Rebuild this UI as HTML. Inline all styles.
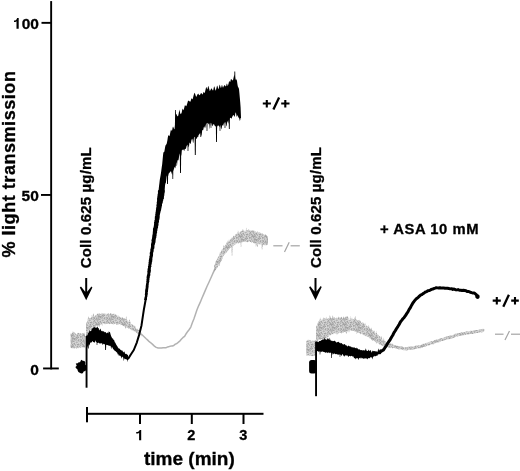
<!DOCTYPE html>
<html><head><meta charset="utf-8"><style>
html,body{margin:0;padding:0;background:#fff;width:520px;height:471px;overflow:hidden;font-family:"Liberation Sans",sans-serif}
svg{display:block;filter:grayscale(1)}
</style></head><body>
<svg width="520" height="471" viewBox="0 0 520 471">
<defs><pattern id="gp" width="13" height="11" patternUnits="userSpaceOnUse"><rect x="0" y="0" width="1" height="1" fill="#c4c4c4"/><rect x="1" y="0" width="1" height="1" fill="#c4c4c4"/><rect x="2" y="0" width="1" height="1" fill="#b2b2b2"/><rect x="3" y="0" width="1" height="1" fill="#cccccc"/><rect x="4" y="0" width="1" height="1" fill="#b2b2b2"/><rect x="5" y="0" width="1" height="1" fill="#b2b2b2"/><rect x="6" y="0" width="1" height="1" fill="#b2b2b2"/><rect x="7" y="0" width="1" height="1" fill="#b2b2b2"/><rect x="8" y="0" width="1" height="1" fill="#a4a4a4"/><rect x="9" y="0" width="1" height="1" fill="#bcbcbc"/><rect x="10" y="0" width="1" height="1" fill="#d6d6d6"/><rect x="11" y="0" width="1" height="1" fill="#c4c4c4"/><rect x="12" y="0" width="1" height="1" fill="#cccccc"/><rect x="0" y="1" width="1" height="1" fill="#d6d6d6"/><rect x="1" y="1" width="1" height="1" fill="#d6d6d6"/><rect x="2" y="1" width="1" height="1" fill="#cccccc"/><rect x="3" y="1" width="1" height="1" fill="#a4a4a4"/><rect x="4" y="1" width="1" height="1" fill="#cccccc"/><rect x="5" y="1" width="1" height="1" fill="#c4c4c4"/><rect x="6" y="1" width="1" height="1" fill="#b2b2b2"/><rect x="7" y="1" width="1" height="1" fill="#c4c4c4"/><rect x="8" y="1" width="1" height="1" fill="#d6d6d6"/><rect x="9" y="1" width="1" height="1" fill="#cccccc"/><rect x="10" y="1" width="1" height="1" fill="#cccccc"/><rect x="11" y="1" width="1" height="1" fill="#b2b2b2"/><rect x="12" y="1" width="1" height="1" fill="#bcbcbc"/><rect x="0" y="2" width="1" height="1" fill="#c4c4c4"/><rect x="1" y="2" width="1" height="1" fill="#d6d6d6"/><rect x="2" y="2" width="1" height="1" fill="#b2b2b2"/><rect x="3" y="2" width="1" height="1" fill="#b2b2b2"/><rect x="4" y="2" width="1" height="1" fill="#c4c4c4"/><rect x="5" y="2" width="1" height="1" fill="#d6d6d6"/><rect x="6" y="2" width="1" height="1" fill="#b2b2b2"/><rect x="7" y="2" width="1" height="1" fill="#cccccc"/><rect x="8" y="2" width="1" height="1" fill="#bcbcbc"/><rect x="9" y="2" width="1" height="1" fill="#a4a4a4"/><rect x="10" y="2" width="1" height="1" fill="#d6d6d6"/><rect x="11" y="2" width="1" height="1" fill="#cccccc"/><rect x="12" y="2" width="1" height="1" fill="#d6d6d6"/><rect x="0" y="3" width="1" height="1" fill="#a4a4a4"/><rect x="1" y="3" width="1" height="1" fill="#c4c4c4"/><rect x="2" y="3" width="1" height="1" fill="#bcbcbc"/><rect x="3" y="3" width="1" height="1" fill="#c4c4c4"/><rect x="4" y="3" width="1" height="1" fill="#a4a4a4"/><rect x="5" y="3" width="1" height="1" fill="#bcbcbc"/><rect x="6" y="3" width="1" height="1" fill="#cccccc"/><rect x="7" y="3" width="1" height="1" fill="#a4a4a4"/><rect x="8" y="3" width="1" height="1" fill="#c4c4c4"/><rect x="9" y="3" width="1" height="1" fill="#b2b2b2"/><rect x="10" y="3" width="1" height="1" fill="#bcbcbc"/><rect x="11" y="3" width="1" height="1" fill="#cccccc"/><rect x="12" y="3" width="1" height="1" fill="#a4a4a4"/><rect x="0" y="4" width="1" height="1" fill="#c4c4c4"/><rect x="1" y="4" width="1" height="1" fill="#cccccc"/><rect x="2" y="4" width="1" height="1" fill="#b2b2b2"/><rect x="3" y="4" width="1" height="1" fill="#cccccc"/><rect x="4" y="4" width="1" height="1" fill="#c4c4c4"/><rect x="5" y="4" width="1" height="1" fill="#a4a4a4"/><rect x="6" y="4" width="1" height="1" fill="#bcbcbc"/><rect x="7" y="4" width="1" height="1" fill="#b2b2b2"/><rect x="8" y="4" width="1" height="1" fill="#b2b2b2"/><rect x="9" y="4" width="1" height="1" fill="#d6d6d6"/><rect x="10" y="4" width="1" height="1" fill="#b2b2b2"/><rect x="11" y="4" width="1" height="1" fill="#d6d6d6"/><rect x="12" y="4" width="1" height="1" fill="#c4c4c4"/><rect x="0" y="5" width="1" height="1" fill="#cccccc"/><rect x="1" y="5" width="1" height="1" fill="#b2b2b2"/><rect x="2" y="5" width="1" height="1" fill="#cccccc"/><rect x="3" y="5" width="1" height="1" fill="#d6d6d6"/><rect x="4" y="5" width="1" height="1" fill="#b2b2b2"/><rect x="5" y="5" width="1" height="1" fill="#a4a4a4"/><rect x="6" y="5" width="1" height="1" fill="#a4a4a4"/><rect x="7" y="5" width="1" height="1" fill="#a4a4a4"/><rect x="8" y="5" width="1" height="1" fill="#b2b2b2"/><rect x="9" y="5" width="1" height="1" fill="#c4c4c4"/><rect x="10" y="5" width="1" height="1" fill="#d6d6d6"/><rect x="11" y="5" width="1" height="1" fill="#c4c4c4"/><rect x="12" y="5" width="1" height="1" fill="#a4a4a4"/><rect x="0" y="6" width="1" height="1" fill="#c4c4c4"/><rect x="1" y="6" width="1" height="1" fill="#d6d6d6"/><rect x="2" y="6" width="1" height="1" fill="#a4a4a4"/><rect x="3" y="6" width="1" height="1" fill="#b2b2b2"/><rect x="4" y="6" width="1" height="1" fill="#bcbcbc"/><rect x="5" y="6" width="1" height="1" fill="#cccccc"/><rect x="6" y="6" width="1" height="1" fill="#a4a4a4"/><rect x="7" y="6" width="1" height="1" fill="#c4c4c4"/><rect x="8" y="6" width="1" height="1" fill="#bcbcbc"/><rect x="9" y="6" width="1" height="1" fill="#b2b2b2"/><rect x="10" y="6" width="1" height="1" fill="#cccccc"/><rect x="11" y="6" width="1" height="1" fill="#c4c4c4"/><rect x="12" y="6" width="1" height="1" fill="#b2b2b2"/><rect x="0" y="7" width="1" height="1" fill="#a4a4a4"/><rect x="1" y="7" width="1" height="1" fill="#d6d6d6"/><rect x="2" y="7" width="1" height="1" fill="#b2b2b2"/><rect x="3" y="7" width="1" height="1" fill="#c4c4c4"/><rect x="4" y="7" width="1" height="1" fill="#bcbcbc"/><rect x="5" y="7" width="1" height="1" fill="#cccccc"/><rect x="6" y="7" width="1" height="1" fill="#c4c4c4"/><rect x="7" y="7" width="1" height="1" fill="#b2b2b2"/><rect x="8" y="7" width="1" height="1" fill="#bcbcbc"/><rect x="9" y="7" width="1" height="1" fill="#d6d6d6"/><rect x="10" y="7" width="1" height="1" fill="#c4c4c4"/><rect x="11" y="7" width="1" height="1" fill="#a4a4a4"/><rect x="12" y="7" width="1" height="1" fill="#b2b2b2"/><rect x="0" y="8" width="1" height="1" fill="#d6d6d6"/><rect x="1" y="8" width="1" height="1" fill="#d6d6d6"/><rect x="2" y="8" width="1" height="1" fill="#cccccc"/><rect x="3" y="8" width="1" height="1" fill="#d6d6d6"/><rect x="4" y="8" width="1" height="1" fill="#b2b2b2"/><rect x="5" y="8" width="1" height="1" fill="#cccccc"/><rect x="6" y="8" width="1" height="1" fill="#c4c4c4"/><rect x="7" y="8" width="1" height="1" fill="#a4a4a4"/><rect x="8" y="8" width="1" height="1" fill="#a4a4a4"/><rect x="9" y="8" width="1" height="1" fill="#a4a4a4"/><rect x="10" y="8" width="1" height="1" fill="#b2b2b2"/><rect x="11" y="8" width="1" height="1" fill="#bcbcbc"/><rect x="12" y="8" width="1" height="1" fill="#b2b2b2"/><rect x="0" y="9" width="1" height="1" fill="#b2b2b2"/><rect x="1" y="9" width="1" height="1" fill="#c4c4c4"/><rect x="2" y="9" width="1" height="1" fill="#b2b2b2"/><rect x="3" y="9" width="1" height="1" fill="#b2b2b2"/><rect x="4" y="9" width="1" height="1" fill="#cccccc"/><rect x="5" y="9" width="1" height="1" fill="#bcbcbc"/><rect x="6" y="9" width="1" height="1" fill="#c4c4c4"/><rect x="7" y="9" width="1" height="1" fill="#b2b2b2"/><rect x="8" y="9" width="1" height="1" fill="#bcbcbc"/><rect x="9" y="9" width="1" height="1" fill="#a4a4a4"/><rect x="10" y="9" width="1" height="1" fill="#bcbcbc"/><rect x="11" y="9" width="1" height="1" fill="#b2b2b2"/><rect x="12" y="9" width="1" height="1" fill="#d6d6d6"/><rect x="0" y="10" width="1" height="1" fill="#a4a4a4"/><rect x="1" y="10" width="1" height="1" fill="#cccccc"/><rect x="2" y="10" width="1" height="1" fill="#bcbcbc"/><rect x="3" y="10" width="1" height="1" fill="#a4a4a4"/><rect x="4" y="10" width="1" height="1" fill="#cccccc"/><rect x="5" y="10" width="1" height="1" fill="#a4a4a4"/><rect x="6" y="10" width="1" height="1" fill="#bcbcbc"/><rect x="7" y="10" width="1" height="1" fill="#b2b2b2"/><rect x="8" y="10" width="1" height="1" fill="#c4c4c4"/><rect x="9" y="10" width="1" height="1" fill="#c4c4c4"/><rect x="10" y="10" width="1" height="1" fill="#bcbcbc"/><rect x="11" y="10" width="1" height="1" fill="#c4c4c4"/><rect x="12" y="10" width="1" height="1" fill="#c4c4c4"/></pattern></defs><style>text{stroke:#000;stroke-width:0.3px}</style>
<rect width="520" height="471" fill="#fff"/>
<g font-family="Liberation Sans, sans-serif" font-weight="bold" fill="#000">
<!-- y axis -->
<rect x="50.2" y="1.1" width="1.9" height="368.3" fill="#000"/>
<rect x="41.5" y="21.9" width="9.5" height="1.9"/>
<rect x="41" y="194" width="10" height="1.9"/>
<rect x="43.1" y="367.5" width="15.7" height="1.9"/>
<text x="38.9" y="28.8" font-size="15.5" text-anchor="end">00</text>
<path d="M16.5 28.8H18.7V17.9H17.1C16.8 19.6 15.7 20.4 14 20.5V22.1C15 22.1 15.9 21.8 16.5 21.2Z"/>
<text x="38.8" y="201.2" font-size="15.5" text-anchor="end">50</text>
<text x="38.9" y="374.5" font-size="15.5" text-anchor="end">0</text>
<text transform="translate(14.9,257.6) rotate(-90)" font-size="18" letter-spacing="0.55">% light transmission</text>
<!-- x axis -->
<rect x="86" y="412.8" width="177.5" height="2"/>
<rect x="86" y="407" width="2" height="15.3"/>
<rect x="139" y="414" width="2" height="10"/>
<rect x="190.8" y="414" width="2" height="10"/>
<rect x="242.5" y="414" width="2" height="10"/>
<path d="M139.1 440.3H141.2V429.9H139.6C139.3 431.3 138.2 432 136.2 432.1V433.6C137.4 433.6 138.5 433.3 139.1 432.7Z"/>
<text x="191.3" y="440" font-size="14.5" text-anchor="middle">2</text>
<text x="243.4" y="440" font-size="14.5" text-anchor="middle">3</text>
<text x="189.4" y="465" font-size="19" text-anchor="middle">time (min)</text>
<!-- labels -->
<text transform="translate(91.4,268.3) rotate(-90)" font-size="15" letter-spacing="0.15">Coll 0.625 µg/mL</text>
<text transform="translate(320.6,268.1) rotate(-90)" font-size="15" letter-spacing="0.15">Coll 0.625 µg/mL</text>
<text x="380" y="233.6" font-size="14.8" letter-spacing="0.55">+ ASA 10 mM</text>
</g>
<!-- +/+ labels -->
<g stroke="#000" stroke-width="2.1" fill="none">
<path d="M262.8 103.5H270.9M266.8 99.9V107.5M281.2 103.5H289.5M285.3 99.9V107.5"/>
<path d="M273.4 109.6L279.1 97.5" stroke-width="2.3"/>
<path d="M492.7 300.6H500.8M496.8 297V304.6M511.2 300.6H518.8M515 297V304.6"/>
<path d="M503.3 306.7L508.9 294.8" stroke-width="2.3"/>
</g>
<!-- arrows -->
<path d="M79.8 287.6L81 286.6L85.2 291.8V278H87.2V291.8L91.4 286.4L92.4 287.4L86.2 300.3Z" fill="#000"/>
<path d="M309.1 287.3L310.3 286.3L314.5 291.5V278H316.5V291.5L320.7 286.1L321.7 287.1L315.5 300.3Z" fill="#000"/>
<!-- -/- labels -->
<g stroke="#a4a4a4" stroke-width="1.2" fill="none">
<line x1="273.3" y1="245.8" x2="282.5" y2="245.8"/>
<line x1="284.5" y1="252" x2="289.2" y2="242.3"/>
<line x1="290.6" y1="245.8" x2="299.8" y2="245.8"/>
<line x1="495" y1="334.2" x2="503.5" y2="334.2"/>
<line x1="505" y1="340" x2="509.5" y2="331"/>
<line x1="511" y1="334.2" x2="520" y2="334.2"/>
</g>
<path d="M70.6 333.54 L71.2 333.63 L71.8 333.46 L72.4 332.46 L73 331 L73.6 332.53 L74.2 332.11 L74.8 333.87 L75.4 333.03 L76 334.12 L76.6 333.91 L77.2 333.88 L77.8 332.66 L78.4 333.09 L79 332.63 L79.6 333.66 L80.2 333.22 L80.8 332.95 L81.4 333.61 L82 334.51 L82.6 333.04 L83.2 332.93 L83.8 333.55 L84.4 333.68 L85 332.36 L85 333.62 L85 347 L85 347.97 L84.4 347.07 L83.8 347.88 L83.2 347.02 L82.6 347.13 L82 347.47 L81.4 347.08 L80.8 347.81 L80.2 347.47 L79.6 347.76 L79 347.99 L78.4 348.28 L77.8 347.49 L77.2 348.27 L76.6 348.63 L76 347.82 L75.4 347.92 L74.8 348.65 L74.2 348.68 L73.6 348.19 L73 347.89 L72.4 348.19 L71.8 348.36 L71.2 347.93 L70.6 347.92Z" fill="url(#gp)"/>
<path d="M86 324.69 L86.6 321.71 L87.2 322.8 L87.8 318.82 L88.4 316.16 L89 317.73 L89.6 318.19 L90.2 317.65 L90.8 317.88 L91.4 317.2 L92 314.41 L92.6 316.86 L93.2 312.82 L93.8 315.09 L94.4 316.15 L95 315.91 L95.6 315.1 L96.2 315.33 L96.8 314.31 L97.4 314.08 L98 313.25 L98.6 314.09 L99.2 314.11 L99.8 313.12 L100.4 314.03 L101 314.23 L101.6 312.7 L102.2 313.39 L102.8 313.33 L103.4 313.88 L104 313.17 L104.6 313.53 L105.2 313.66 L105.8 313.75 L106.4 315.83 L107 312.77 L107.6 314.1 L108.2 313.47 L108.8 313.14 L109.4 314.24 L110 314.04 L110.6 312.85 L111.2 314.23 L111.8 313.54 L112.4 313.89 L113 313.9 L113.6 313.63 L114.2 313.22 L114.8 314.93 L115.4 313.89 L116 314.58 L116.6 315.15 L117.2 316.87 L117.8 315.5 L118.4 315.25 L119 316.85 L119.6 316.34 L120.2 317.46 L120.8 317.45 L121.4 317.59 L122 317.92 L122.6 316.67 L123.2 318.52 L123.8 318.25 L124.4 318.04 L125 319.61 L125.6 319.27 L126.2 316.04 L126.8 319.22 L127.4 320.2 L128 321.56 L128.6 321.99 L129.2 319.35 L129.8 319.98 L130.4 322.2 L131 325.24 L131.6 323.82 L132.2 324.5 L132.8 324.19 L133.4 326.02 L134 325.15 L134.6 326.24 L135.2 325.98 L135.8 327.86 L136.4 329.51 L137 328.36 L137.6 329.57 L138.2 329.75 L138.8 330.2 L139.4 329.86 L140 330.26 L140.6 331.78 L141.2 332.46 L141.5 332.87 L141.5 336.34 L141.2 336.19 L140.6 334.89 L140 335.22 L139.4 334.43 L138.8 334.68 L138.2 336.59 L137.6 333.19 L137 333.12 L136.4 332.95 L135.8 332.18 L135.2 331.46 L134.6 331.7 L134 330.82 L133.4 331.32 L132.8 330.06 L132.2 330.38 L131.6 330.34 L131 329.8 L130.4 329.05 L129.8 328.63 L129.2 328.86 L128.6 328.61 L128 328.28 L127.4 327.45 L126.8 326.97 L126.2 327.55 L125.6 328.95 L125 326.56 L124.4 326.16 L123.8 326.16 L123.2 325.68 L122.6 325.68 L122 325.06 L121.4 324.7 L120.8 325.34 L120.2 324.49 L119.6 324.1 L119 324.18 L118.4 324.25 L117.8 324.63 L117.2 324.74 L116.6 324.75 L116 324.06 L115.4 323.75 L114.8 324.28 L114.2 323.74 L113.6 324.59 L113 324.22 L112.4 324.09 L111.8 323.95 L111.2 323.6 L110.6 323.67 L110 323.55 L109.4 324.26 L108.8 323.57 L108.2 323.64 L107.6 324.01 L107 323.96 L106.4 323.61 L105.8 324.13 L105.2 324.05 L104.6 324.29 L104 323.57 L103.4 323.59 L102.8 322.94 L102.2 326.29 L101.6 324.57 L101 324.6 L100.4 324.6 L99.8 325.51 L99.2 327.48 L98.6 325.52 L98 325.7 L97.4 325.55 L96.8 326.31 L96.2 326.09 L95.6 326.66 L95 327.02 L94.4 327.34 L93.8 327.83 L93.2 329.27 L92.6 329.14 L92 330.98 L91.4 330.21 L90.8 329.24 L90.2 331.05 L89.6 333.85 L89 332.83 L88.4 333.92 L87.8 334.52 L87.2 336.75 L86.6 335.82 L86 336.53Z" fill="url(#gp)"/>
<polyline points="141.5,334.26 143.07,335.75 144.63,337.21 146.2,338.72 147.73,340.12 149.27,341.71 150.8,342.76 152.6,344.42 154.4,346.09 156.2,347.37 158.1,347.95 160,348.01 161.55,348.03 163.1,347.77 164.65,347.77 166.2,347.64 167.72,346.9 169.24,346.54 170.76,346.11 172.28,345.97 173.8,345.43 175.37,344.13 176.93,343.45 178.5,342.12 180.03,340.83 181.55,339.06 183.07,337.48 184.6,336.39 186.15,333.73 187.7,331.41 189.25,329.47 190.8,327.09 192.33,322.69 193.87,318.93 195.4,314.62 196.9,310.09 198.6,305.83 200.3,302.18 202,298.04 203.7,294.15 205.4,290.1 207.07,286.23 208.73,282.7 210.4,279.03 212.2,274.99 214,270.92 215.8,267 217.3,263.95 218.8,260.45 220.3,257.59" fill="none" stroke="#b2b2b2" stroke-width="1.5" stroke-linejoin="round" stroke-linecap="round"/>
<path d="M214 265.82 L214.6 264.72 L215.2 264.26 L215.8 261.26 L216.4 260.21 L217 259.61 L217.6 257.8 L218.2 256.81 L218.8 255.94 L219.4 255 L220 251.89 L220.6 252.63 L221.2 250.4 L221.8 249.75 L222.4 248.86 L223 248.7 L223.6 244.68 L224.2 246.43 L224.8 245.7 L225.4 245.39 L226 243.7 L226.6 242.34 L227.2 243.48 L227.8 240.3 L228.4 242.39 L229 239.2 L229.6 241.14 L230.2 240.28 L230.8 238.73 L231.4 237.13 L232 240.03 L232.6 237.35 L233.2 236.54 L233.8 235.61 L234.4 236.22 L235 235.42 L235.6 234 L236.2 233.99 L236.8 233.76 L237.4 234.19 L238 230.24 L238.6 232.4 L239.2 232.72 L239.8 232.62 L240.4 231.61 L241 231.62 L241.6 230.92 L242.2 230.6 L242.8 228.97 L243.4 230.1 L244 231.13 L244.6 230.49 L245.2 232.26 L245.8 230.2 L246.4 227.49 L247 230.7 L247.6 230.18 L248.2 230.06 L248.8 228.83 L249.4 230.42 L250 230.76 L250.6 230.73 L251.2 230.8 L251.8 230.21 L252.4 230.41 L253 230.79 L253.6 230.61 L254.2 230.57 L254.8 232.42 L255.4 231.35 L256 231.95 L256.6 232.13 L257.2 231.18 L257.8 231.23 L258.4 232.63 L259 232.76 L259.6 232.28 L260.2 232.63 L260.8 232.78 L261.4 233.2 L262 233.45 L262.6 233.42 L263.2 233.97 L263.8 234.49 L264.4 234.71 L265 235.4 L265.6 233.77 L266.2 235.6 L266.8 235 L267.4 236.74 L268 236.86 L268 244.46 L267.4 245.12 L266.8 245.21 L266.2 245.33 L265.6 244.93 L265 245.43 L264.4 244.79 L263.8 244.75 L263.2 244.7 L262.6 247.54 L262 244.98 L261.4 245.03 L260.8 243.82 L260.2 244.67 L259.6 244.27 L259 244.84 L258.4 242.77 L257.8 246.84 L257.2 246.71 L256.6 244.13 L256 243.62 L255.4 243.97 L254.8 243.29 L254.2 243.47 L253.6 243.06 L253 242.75 L252.4 241.16 L251.8 242.67 L251.2 242.32 L250.6 242.04 L250 242.01 L249.4 240.86 L248.8 242.02 L248.2 241.86 L247.6 242.14 L247 242.26 L246.4 241.67 L245.8 242.37 L245.2 240.93 L244.6 241.76 L244 241.73 L243.4 242.05 L242.8 242.05 L242.2 242.19 L241.6 242.2 L241 242.06 L240.4 242.66 L239.8 243.07 L239.2 242.28 L238.6 244.3 L238 242.47 L237.4 243.01 L236.8 243.71 L236.2 243.33 L235.6 244.16 L235 245.21 L234.4 244.86 L233.8 244.86 L233.2 246.17 L232.6 246.81 L232 248.41 L231.4 247.75 L230.8 247.73 L230.2 248.11 L229.6 248.52 L229 249.52 L228.4 249.79 L227.8 251.15 L227.2 251.3 L226.6 252.76 L226 252.32 L225.4 253.15 L224.8 254.76 L224.2 254.06 L223.6 256.23 L223 256.32 L222.4 258.8 L221.8 259.9 L221.2 261.23 L220.6 262.2 L220 263.78 L219.4 266.17 L218.8 265.22 L218.2 265.98 L217.6 267.58 L217 267.72 L216.4 268.53 L215.8 270.03 L215.2 270.48 L214.6 271.21 L214 272.57Z" fill="url(#gp)"/>
<path d="M231.35 242.63 L231.68 256 L232.32 256 L232.65 242.63 Z" fill="url(#gp)"/>
<path d="M261.35 239.31 L261.68 249.5 L262.32 249.5 L262.65 239.31 Z" fill="url(#gp)"/>
<path d="M240.5 237.15 L240.75 247 L241.25 247 L241.5 237.15 Z" fill="url(#gp)"/>
<path d="M255.5 237.66 L255.75 246.5 L256.25 246.5 L256.5 237.66 Z" fill="url(#gp)"/>
<path d="M86.04 366.9 L87.03 368.54 L86.32 370.01 L85.13 371.04 L83.68 371.42 L82.82 373.28 L81.2 373.54 L79.74 372.63 L78.39 372.02 L77.67 370.62 L77.33 369.25 L76.07 368.35 L75.41 366.9 L76.74 365.64 L75.77 363.6 L77.67 363.18 L78.7 362.35 L80.02 362.26 L81.2 359.81 L82.79 360.65 L84.43 361.01 L85.35 362.53 L85.13 364.51 L86.23 365.48Z" fill="#000"/>
<rect x="85.6" y="336" width="1.9" height="51.7" fill="#000"/>
<path d="M86 335.56 L86.6 335.8 L87.2 335.62 L87.8 334.11 L88.4 332.49 L89 332.55 L89.6 329.94 L90.2 331.34 L90.8 330.88 L91.4 330.46 L92 328.71 L92.6 328.25 L93.2 328.12 L93.8 326.92 L94.4 326.66 L95 327.78 L95.6 327.43 L96.2 327.54 L96.8 327.73 L97.4 326.37 L98 327.9 L98.6 328.12 L99.2 330.42 L99.8 329.52 L100.4 328.61 L101 330.31 L101.6 331.33 L102.2 330.84 L102.8 331.42 L103.4 331.15 L104 331.58 L104.6 332.37 L105.2 332.29 L105.8 332.08 L106.4 333.52 L107 332.7 L107.6 332.56 L108.2 333.57 L108.8 331.21 L109.4 332.1 L110 332.31 L110.6 334.41 L111.2 336.26 L111.8 337.48 L112.4 338.44 L113 338.62 L113.6 339.88 L114.2 340.36 L114.8 342.31 L115.4 342.7 L116 344.31 L116.6 345.28 L117.2 346.02 L117.8 347.29 L118.4 348.03 L119 348.86 L119.6 348.56 L120.2 349.8 L120.8 349.82 L121.4 350.69 L122 349.95 L122.6 351.15 L123.2 351.79 L123.8 352.42 L124.4 351.18 L125 353.44 L125.6 353.88 L126.2 353.73 L126.8 354.14 L127.4 354.89 L128 354.56 L128 353.22 L128 360.14 L128 362.24 L127.4 360.16 L126.8 359.5 L126.2 359.36 L125.6 359.25 L125 358.61 L124.4 358.33 L123.8 361.15 L123.2 357.39 L122.6 357.06 L122 356.54 L121.4 358.74 L120.8 356.17 L120.2 355.8 L119.6 355.3 L119 356.31 L118.4 354.34 L117.8 354.38 L117.2 352.74 L116.6 352.13 L116 351.8 L115.4 351.12 L114.8 350.86 L114.2 350.3 L113.6 349.42 L113 348.84 L112.4 347.45 L111.8 346.66 L111.2 349.25 L110.6 345.83 L110 346.04 L109.4 345.74 L108.8 345.32 L108.2 345.86 L107.6 345.1 L107 344.97 L106.4 344.67 L105.8 345.19 L105.2 344.74 L104.6 344.18 L104 343.96 L103.4 343.8 L102.8 345.31 L102.2 343.41 L101.6 343.19 L101 343.29 L100.4 343.44 L99.8 343.36 L99.2 343.49 L98.6 342.53 L98 342.92 L97.4 342.9 L96.8 342.2 L96.2 342.11 L95.6 340.31 L95 342.55 L94.4 342.4 L93.8 342.08 L93.2 342.18 L92.6 340.65 L92 341.93 L91.4 342.51 L90.8 342.43 L90.2 342.85 L89.6 345.67 L89 343.96 L88.4 344.98 L87.8 345.93 L87.2 347.54 L86.6 348.77 L86 349.04Z" fill="#000"/>
<path d="M104.8 338.55 L105.2 350 L106 350 L106.4 338.55 Z" fill="#000"/>
<path d="M87.6 339.21 L87.95 348.5 L88.65 348.5 L89 339.21 Z" fill="#000"/>
<path d="M96.4 335.07 L96.7 345 L97.3 345 L97.6 335.07 Z" fill="#000"/>
<polyline points="125,357.5 128.2,358.6 131,354.2 133.8,350 136.9,342.3 139.2,334.6 141.5,325.4 143.1,314.6 143.8,310 145.6,300 146.4,294" fill="none" stroke="#000" stroke-width="2.0" stroke-linejoin="round" stroke-linecap="round"/>
<path d="M144.09 300 L144.19 299.2 L144.43 298.4 L144.54 297.6 L144.8 296.8 L144.87 296 L145.05 295.2 L144.79 294.4 L144.98 293.6 L145.14 292.8 L145.01 292 L145.16 291.2 L145.09 290.4 L145.28 289.6 L145.46 288.8 L145.68 288 L145.68 287.2 L145.71 286.4 L145.77 285.6 L146.09 284.8 L145.85 284 L146.29 283.2 L146.41 282.4 L146.23 281.6 L146.44 280.8 L146.55 280 L146.39 279.2 L146.73 278.4 L146.55 277.6 L146.62 276.8 L146.85 276 L146.91 275.2 L147.21 274.4 L147.37 273.6 L147.49 272.8 L147.27 272 L147.32 271.2 L147.56 270.4 L147.57 269.6 L147.56 268.8 L148.06 268 L148.03 267.2 L147.91 266.4 L148.38 265.6 L148.33 264.8 L148.43 264 L148.68 263.2 L148.47 262.4 L148.86 261.6 L148.73 260.8 L148.9 260 L149.01 259.2 L149.15 258.4 L149.43 257.6 L149.3 256.8 L149.52 256 L149.85 255.2 L149.84 254.4 L149.7 253.6 L149.75 252.8 L150.05 252 L150.32 251.2 L150.31 250.4 L150.3 249.6 L150.58 248.8 L150.8 248 L150.88 247.2 L151 246.4 L150.98 245.6 L150.95 244.8 L151.07 244 L151.24 243.2 L151.48 242.4 L151.69 241.6 L151.41 240.8 L151.56 240 L151.75 239.2 L152 238.4 L152.12 237.6 L152.21 236.8 L152.28 236 L152.35 235.2 L152.57 234.4 L152.76 233.6 L152.78 232.8 L152.77 232 L152.91 231.2 L152.97 230.4 L152.94 229.6 L153.06 228.8 L153.11 228 L153.7 227.2 L153.7 226.4 L153.88 225.6 L154.03 224.8 L153.99 224 L154.16 223.2 L153.97 222.4 L154.46 221.6 L154.2 220.8 L154.77 220 L154.82 219.2 L154.77 218.4 L154.84 217.6 L154.83 216.8 L155.06 216 L155.41 215.2 L155.17 214.4 L155.5 213.6 L155.52 212.8 L155.52 212 L155.88 211.2 L155.8 210.4 L156.11 209.6 L155.86 208.8 L156.38 208 L156.15 207.2 L156.61 206.4 L156.35 205.6 L156.54 204.8 L156.69 204 L156.83 203.2 L156.67 202.4 L156.96 201.6 L157.1 200.8 L157.13 200 L157.03 199.2 L157.05 198.4 L157.31 197.6 L157.41 196.8 L157.32 196 L157.69 195.2 L157.57 194.4 L157.89 193.6 L158.16 192.8 L157.78 192 L158.01 191.2 L158.32 190.4 L158.2 190 L164.53 190 L164.53 190.4 L164.66 191.2 L164.58 192 L164.29 192.8 L164.01 193.6 L164.06 194.4 L163.78 195.2 L163.96 196 L163.97 196.8 L163.61 197.6 L163.55 198.4 L163.45 199.2 L163.14 200 L163.19 200.8 L162.78 201.6 L162.76 202.4 L162.48 203.2 L162.1 204 L161.98 204.8 L162.06 205.6 L161.68 206.4 L161.7 207.2 L161.28 208 L161.38 208.8 L161.14 209.6 L160.96 210.4 L160.68 211.2 L160.44 212 L160.35 212.8 L160.11 213.6 L159.93 214.4 L159.74 215.2 L159.72 216 L159.73 216.8 L159.68 217.6 L159.52 218.4 L159.4 219.2 L159.2 220 L158.86 220.8 L159.12 221.6 L158.83 222.4 L158.41 223.2 L158.58 224 L158.47 224.8 L158.39 225.6 L158.02 226.4 L158.11 227.2 L157.89 228 L157.57 228.8 L157.44 229.6 L157.4 230.4 L157.11 231.2 L156.97 232 L157.19 232.8 L156.72 233.6 L156.6 234.4 L156.59 235.2 L156.58 236 L156.21 236.8 L156.35 237.6 L155.89 238.4 L155.72 239.2 L155.76 240 L155.52 240.8 L155.56 241.6 L155.42 242.4 L155.09 243.2 L154.95 244 L154.77 244.8 L154.42 245.6 L154.45 246.4 L154.42 247.2 L154.37 248 L154.18 248.8 L153.64 249.6 L153.71 250.4 L153.62 251.2 L153.46 252 L153.08 252.8 L153.04 253.6 L153.08 254.4 L153 255.2 L152.98 256 L152.73 256.8 L152.54 257.6 L152.33 258.4 L152.51 259.2 L152.19 260 L152.31 260.8 L152.19 261.6 L151.85 262.4 L151.73 263.2 L151.81 264 L151.37 264.8 L151.22 265.6 L151.52 266.4 L151.03 267.2 L150.85 268 L150.89 268.8 L150.76 269.6 L150.96 270.4 L150.83 271.2 L150.72 272 L150.52 272.8 L150.21 273.6 L150.37 274.4 L150.26 275.2 L150.14 276 L149.7 276.8 L149.84 277.6 L149.44 278.4 L149.55 279.2 L149.33 280 L149.26 280.8 L149.39 281.6 L149.01 282.4 L148.82 283.2 L148.77 284 L148.73 284.8 L148.56 285.6 L148.59 286.4 L148.63 287.2 L148.21 288 L148.4 288.8 L148.15 289.6 L148.05 290.4 L148.07 291.2 L147.96 292 L147.59 292.8 L147.83 293.6 L147.57 294.4 L147.3 295.2 L147.38 296 L147.28 296.8 L147.02 297.6 L147.06 298.4 L146.79 299.2 L147.12 300Z" fill="#000"/>
<path d="M157.4 201.9 L157.8 198.29 L158.2 194.43 L158.6 190.35 L159 186.31 L159.4 183.19 L159.8 179.71 L160.2 177.59 L160.6 175.26 L161 172.87 L161.4 169.81 L161.8 166.79 L162.2 163.97 L162.6 159.63 L163 155.38 L163.4 152.23 L163.8 152.18 L164.2 151.91 L164.6 150.22 L165 147.76 L165.4 145.7 L165.8 144.92 L166.2 144.41 L166.6 143.91 L167 142.22 L167.4 140.16 L167.8 137.45 L168.2 135.48 L168.6 135.28 L169 135.75 L169.4 136.15 L169.8 135.12 L170.2 132.92 L170.6 131.08 L171 129.47 L171.4 130.25 L171.8 130.92 L172.2 130.08 L172.6 127.72 L173 126.56 L173.4 127.25 L173.8 128.21 L174.2 129.26 L174.6 129.01 L175 124.46 L175.4 117.54 L175.8 113.55 L176.2 113.98 L176.6 114.55 L177 115.53 L177.4 116.31 L177.8 116.15 L178.2 115.78 L178.6 113.93 L179 111.87 L179.4 109.57 L179.8 111.42 L180.2 113.21 L180.6 114.15 L181 113.51 L181.4 113.4 L181.8 111.99 L182.2 110.08 L182.6 108.57 L183 109.52 L183.4 110.28 L183.8 109.37 L184.2 108.02 L184.6 106.26 L185 105.11 L185.4 105.55 L185.8 105.99 L186.2 106.25 L186.6 105.55 L187 104.24 L187.4 102.97 L187.8 101.5 L188.2 100.36 L188.6 100.9 L189 100.96 L189.4 101.17 L189.8 101.49 L190.2 101.86 L190.6 101.32 L191 99.85 L191.4 98.58 L191.8 98.46 L192.2 98.72 L192.6 99.4 L193 97.99 L193.4 96.28 L193.8 94.64 L194.2 93.42 L194.6 92.81 L195 93.54 L195.4 94.66 L195.8 95.96 L196.2 97 L196.6 96.31 L197 95.43 L197.4 94.61 L197.8 93.98 L198.2 93.62 L198.6 94.36 L199 94.7 L199.4 95.29 L199.8 95.08 L200.2 94.4 L200.6 93.66 L201 92.9 L201.4 93.34 L201.8 93.58 L202.2 94.14 L202.6 94.38 L203 93.59 L203.4 92.42 L203.8 91.85 L204.2 92.6 L204.6 93.16 L205 91.97 L205.4 90.15 L205.8 88.53 L206.2 86.88 L206.6 87.39 L207 88.68 L207.4 89.58 L207.8 87.51 L208.2 85.94 L208.6 86.47 L209 88.2 L209.4 89.51 L209.8 91.22 L210.2 90.55 L210.6 89.8 L211 89.02 L211.4 88.25 L211.8 88.79 L212.2 89.44 L212.6 90.11 L213 90.85 L213.4 89.48 L213.8 87.6 L214.2 86.13 L214.6 87.1 L215 88.65 L215.4 89.89 L215.8 90.68 L216.2 88.89 L216.6 87.41 L217 85.86 L217.4 85.84 L217.8 87.18 L218.2 88.83 L218.6 88.99 L219 87.31 L219.4 85.56 L219.8 84.42 L220.2 86.01 L220.6 87.41 L221 88.1 L221.4 86.69 L221.8 84.97 L222.2 85.21 L222.6 86.69 L223 87.66 L223.4 86.89 L223.8 85.98 L224.2 85.42 L224.6 84.95 L225 85.54 L225.4 86.08 L225.8 86.55 L226.2 85.9 L226.6 84.05 L227 83.53 L227.4 84.82 L227.8 86.15 L228.2 84.81 L228.6 83.41 L229 81.42 L229.4 80.76 L229.8 82.13 L230.2 81.9 L230.6 80.54 L231 78.84 L231.4 79.24 L231.8 79.79 L232.2 80.06 L232.6 80.52 L233 80.35 L233.4 78.47 L233.8 76.72 L234.2 74.97 L234.6 75.44 L235 77 L235.4 79.16 L235.8 79.74 L236.2 79.52 L236.6 79.53 L237 81.11 L237.4 83.92 L237.8 86.24 L238.2 87.37 L238.6 87.7 L239 89.05 L239.4 92.97 L239.8 97.53 L240.2 102 L240.6 107.23 L241 117.08 L241 117.88 L240.6 118.09 L240.2 120.08 L239.8 121.06 L239.4 119.11 L239 118.04 L238.6 117.86 L238.2 116.85 L237.8 116.26 L237.4 115.22 L237 115.59 L236.6 117.19 L236.2 113.98 L235.8 112.22 L235.4 113.32 L235 115.26 L234.6 117.09 L234.2 116.14 L233.8 115.52 L233.4 115.06 L233 115.34 L232.6 116.24 L232.2 116.63 L231.8 118.28 L231.4 118.72 L231 117.9 L230.6 117.63 L230.2 118 L229.8 118.29 L229.4 118.4 L229 119.54 L228.6 121.85 L228.2 123.68 L227.8 122.25 L227.4 120.66 L227 122.88 L226.6 126.44 L226.2 125.69 L225.8 123.13 L225.4 121.89 L225 122.34 L224.6 122.58 L224.2 123.14 L223.8 123.38 L223.4 125 L223 126.21 L222.6 124.94 L222.2 125.17 L221.8 127.46 L221.4 129.59 L221 128.15 L220.6 126.31 L220.2 125.1 L219.8 126.07 L219.4 127.27 L219 126.17 L218.6 125.28 L218.2 125.64 L217.8 125.67 L217.4 125.74 L217 127.14 L216.6 130.88 L216.2 127.87 L215.8 126.09 L215.4 126.61 L215 126.13 L214.6 125.43 L214.2 124.44 L213.8 124.52 L213.4 124.13 L213 124.29 L212.6 125.94 L212.2 126.2 L211.8 124.55 L211.4 123.33 L211 122.93 L210.6 122.87 L210.2 125.48 L209.8 129.48 L209.4 124.9 L209 122.76 L208.6 124.6 L208.2 124.08 L207.8 122.71 L207.4 122.91 L207 123.06 L206.6 123.53 L206.2 123.54 L205.8 125 L205.4 127 L205 128.58 L204.6 127.31 L204.2 126.22 L203.8 127.25 L203.4 129.35 L203 130.59 L202.6 130.07 L202.2 130.27 L201.8 133.9 L201.4 137.27 L201 134.57 L200.6 132.49 L200.2 133.31 L199.8 133.53 L199.4 134.05 L199 134.83 L198.6 135.12 L198.2 137.08 L197.8 137.52 L197.4 136.52 L197 137.7 L196.6 138.7 L196.2 139 L195.8 138.3 L195.4 136.92 L195 136.8 L194.6 137.1 L194.2 137 L193.8 139.05 L193.4 142.68 L193 142.83 L192.6 139.88 L192.2 138.82 L191.8 139.16 L191.4 140.15 L191 142.16 L190.6 144.13 L190.2 143.4 L189.8 142.5 L189.4 143.16 L189 146.37 L188.6 147.46 L188.2 145.75 L187.8 144.62 L187.4 145.24 L187 145.53 L186.6 146.08 L186.2 147.71 L185.8 148.67 L185.4 148.98 L185 148.98 L184.6 149.39 L184.2 151.14 L183.8 150.13 L183.4 149.5 L183 149.48 L182.6 149.87 L182.2 150.19 L181.8 150.34 L181.4 154.46 L181 156.26 L180.6 152.55 L180.2 153.05 L179.8 153.8 L179.4 154.9 L179 157.06 L178.6 159.62 L178.2 160.45 L177.8 159.97 L177.4 160.94 L177 165.89 L176.6 162.51 L176.2 162.49 L175.8 165.44 L175.4 168.44 L175 167.14 L174.6 167 L174.2 168.3 L173.8 169.21 L173.4 170.35 L173 171.33 L172.6 173.12 L172.2 174.91 L171.8 173.85 L171.4 172.42 L171 171.33 L170.6 171.4 L170.2 171.77 L169.8 172.21 L169.4 173.08 L169 173.33 L168.6 173.85 L168.2 175.7 L167.8 176.83 L167.4 176.12 L167 175.26 L166.6 176.78 L166.2 180.02 L165.8 183.21 L165.4 183.19 L165 185.72 L164.6 191.36 L164.2 196.14 L163.8 194.91 L163.4 193.34 L163 193.44 L162.6 195.93 L162.2 199.45 L161.8 200.57 L161.4 198.92 L161 198.41 L160.6 199.79 L160.2 200.74 L159.8 201.04 L159.4 201.38 L159 201.68 L158.6 202.49 L158.2 202.89 L157.8 203.77 L157.4 204.04Z" fill="#000"/>
<path d="M166.6 158.27 L167.05 184 L167.95 184 L168.4 158.27 Z" fill="#000"/>
<path d="M179.6 133.33 L180.05 173 L180.95 173 L181.4 133.33 Z" fill="#000"/>
<path d="M194.4 117.24 L194.85 155 L195.75 155 L196.2 117.24 Z" fill="#000"/>
<path d="M215.65 107.9 L216.07 142 L216.93 142 L217.35 107.9 Z" fill="#000"/>
<path d="M228.45 102.18 L228.88 129 L229.73 129 L230.15 102.18 Z" fill="#000"/>
<path d="M172.05 151.57 L172.43 179 L173.18 179 L173.55 151.57 Z" fill="#000"/>
<path d="M234 96.06 L234.4 71.5 L235.2 71.5 L235.6 96.06 Z" fill="#000"/>
<path d="M187.3 124.13 L187.65 151 L188.35 151 L188.7 124.13 Z" fill="#000"/>
<path d="M206.3 107.78 L206.65 131 L207.35 131 L207.7 107.78 Z" fill="#000"/>
<path d="M224.3 104.99 L224.65 128 L225.35 128 L225.7 104.99 Z" fill="#000"/>
<path d="M162.8 174.21 L163.15 199 L163.85 199 L164.2 174.21 Z" fill="#000"/>
<path d="M175.3 139.95 L175.65 166 L176.35 166 L176.7 139.95 Z" fill="#000"/>
<path d="M199.85 114.19 L200.18 137 L200.82 137 L201.15 114.19 Z" fill="#000"/>
<path d="M210.35 107.14 L210.68 128 L211.32 128 L211.65 107.14 Z" fill="#000"/>
<path d="M219.35 107.39 L219.68 131 L220.32 131 L220.65 107.39 Z" fill="#000"/>
<path d="M174.75 141.45 L175.12 110 L175.88 110 L176.25 141.45 Z" fill="#000"/>
<path d="M306.3 341 L306.9 340.74 L307.5 340.27 L308.1 339.48 L308.7 340.43 L309.3 340.32 L309.9 339.75 L310.5 340.33 L311.1 340.52 L311.7 341.18 L312.3 341.33 L312.9 340.19 L313.5 340.81 L314.1 341.03 L314.7 340.5 L315.3 340.83 L315.9 339.85 L316.5 340.4 L316.5 355.35 L315.9 355.33 L315.3 355.28 L314.7 355.98 L314.1 355.4 L313.5 356.05 L312.9 355.91 L312.3 356.31 L311.7 355.53 L311.1 356.26 L310.5 355.55 L309.9 355.91 L309.3 355.41 L308.7 355.36 L308.1 355.45 L307.5 355.43 L306.9 355.72 L306.3 355.04Z" fill="url(#gp)"/>
<path d="M316 326.27 L316.6 325.41 L317.2 326 L317.8 322.69 L318.4 321.68 L319 320.82 L319.6 320.28 L320.2 317.13 L320.8 320.54 L321.4 320.42 L322 318.97 L322.6 319.8 L323.2 317.27 L323.8 318.49 L324.4 317.7 L325 318.56 L325.6 319.37 L326.2 316.46 L326.8 318.66 L327.4 318.91 L328 318 L328.6 318.74 L329.2 318.28 L329.8 314.99 L330.4 316.24 L331 318.27 L331.6 318.35 L332.2 317.95 L332.8 314.89 L333.4 318.33 L334 316.95 L334.6 317.77 L335.2 317.9 L335.8 318.86 L336.4 318.05 L337 317.24 L337.6 319.08 L338.2 316.12 L338.8 317.81 L339.4 317.42 L340 317.58 L340.6 317.99 L341.2 316.76 L341.8 316.74 L342.4 318.72 L343 317.51 L343.6 316.19 L344.2 317.17 L344.8 318.2 L345.4 316.44 L346 317.17 L346.6 316.53 L347.2 316.5 L347.8 316.46 L348.4 318.12 L349 319.9 L349.6 320.22 L350.2 315.71 L350.8 318.68 L351.4 319.39 L352 317.35 L352.6 319.53 L353.2 319.31 L353.8 319.21 L354.4 318.91 L355 316.75 L355.6 316.36 L356.2 319.52 L356.8 319.9 L357.4 320.75 L358 320.1 L358.6 320.23 L359.2 320.36 L359.8 319.72 L360.4 321 L361 322.29 L361.6 323.23 L362.2 321.92 L362.8 322.68 L363.4 322.64 L364 323.52 L364.6 324.25 L365.2 322.52 L365.8 326.77 L366.4 325.36 L367 326.35 L367.6 326.26 L368.2 327.18 L368.8 324.64 L369.4 327.52 L370 328.22 L370.6 329.15 L371.2 327.47 L371.8 329.42 L372.4 330.48 L373 331.21 L373.6 330.69 L374.2 330.5 L374.8 330.92 L375.4 333.03 L376 333.91 L376.6 330.48 L377.2 334.89 L377.8 334.16 L378.4 335.12 L379 336.51 L379.6 336.07 L380.2 336.51 L380.8 338.07 L381.4 335.67 L382 338.11 L382.6 341.32 L383.2 340.32 L383.8 337.35 L384.4 341.25 L385 341.08 L385.6 341.71 L386.2 342.02 L386.8 342.27 L387.4 341.51 L388 342.96 L388.6 340.63 L389.2 343.1 L389.8 343.01 L390.4 343.48 L391 345.17 L391.6 343.15 L392.2 343.88 L392.8 343.83 L393 343.33 L393 348.56 L392.8 347.91 L392.2 348.56 L391.6 347.55 L391 348.19 L390.4 347.81 L389.8 347.91 L389.2 347.62 L388.6 347.92 L388 347.35 L387.4 345.94 L386.8 346.36 L386.2 347.26 L385.6 347.72 L385 346.9 L384.4 346.51 L383.8 346.56 L383.2 345.01 L382.6 345.72 L382 345.9 L381.4 345.16 L380.8 344.31 L380.2 344.88 L379.6 344.67 L379 343.83 L378.4 343.63 L377.8 343.06 L377.2 343.05 L376.6 344.21 L376 341.88 L375.4 342.17 L374.8 341.47 L374.2 340.96 L373.6 340.3 L373 340.46 L372.4 341.04 L371.8 339.93 L371.2 339.15 L370.6 338.47 L370 338.58 L369.4 338.34 L368.8 337.2 L368.2 336.8 L367.6 336.71 L367 336.6 L366.4 335.97 L365.8 335.51 L365.2 336.61 L364.6 335.44 L364 334.82 L363.4 335.26 L362.8 334.41 L362.2 334.54 L361.6 333.41 L361 333.3 L360.4 334.68 L359.8 333.27 L359.2 332.98 L358.6 333.03 L358 332.43 L357.4 332.52 L356.8 334.32 L356.2 331.65 L355.6 331.92 L355 331.32 L354.4 331.21 L353.8 330.98 L353.2 330.84 L352.6 331.04 L352 330.79 L351.4 331.03 L350.8 330.53 L350.2 330.29 L349.6 330.26 L349 332.97 L348.4 330.96 L347.8 331.34 L347.2 331.87 L346.6 334.24 L346 332.88 L345.4 332 L344.8 331.98 L344.2 332.1 L343.6 333.05 L343 332.74 L342.4 332.28 L341.8 334.11 L341.2 332.46 L340.6 333.04 L340 332.61 L339.4 333.06 L338.8 333.02 L338.2 333.46 L337.6 332.94 L337 335.59 L336.4 333.5 L335.8 333.56 L335.2 333.2 L334.6 333.49 L334 332.09 L333.4 334.32 L332.8 334.03 L332.2 334.36 L331.6 334.16 L331 334.6 L330.4 335.27 L329.8 335.38 L329.2 334.79 L328.6 337.08 L328 336.52 L327.4 336.92 L326.8 339.68 L326.2 337.57 L325.6 340.74 L325 338.11 L324.4 340 L323.8 338.67 L323.2 339.46 L322.6 338.92 L322 339.27 L321.4 338.63 L320.8 340.08 L320.2 339.23 L319.6 339.62 L319 339.49 L318.4 339.68 L317.8 341.83 L317.2 340.19 L316.6 340.81 L316 340.8Z" fill="url(#gp)"/>
<polyline points="390,344.7 392,345.79 393.75,346.34 395.5,346.95 397.25,347.29 399,347.94 400.54,347.46 402.08,348.05 403.62,348.67 405.16,348.68 406.7,349.12 408.21,348.28 409.73,348.35 411.24,347.95 412.76,347.98 414.27,347.79 415.79,347.12 417.3,347.07 418.89,346.65 420.48,346.68 422.06,346.09 423.65,345.13 425.24,345.16 426.82,344.16 428.41,344.07 430,343.2 431.59,342.56 433.18,342.72 434.76,341.66 436.35,341.12 437.94,341.2 439.52,340.57 441.11,339.57 442.7,339.57 444.29,338.76 445.88,338.39 447.46,337.54 449.05,337.65 450.64,336.98 452.22,336.72 453.81,336.19 455.4,335.24 456.99,334.98 458.57,334.51 460.16,334.18 461.75,333.8 463.34,333.68 464.93,333.61 466.51,332.82 468.1,333.04 469.62,332.54 471.14,332.28 472.67,332.45 474.19,331.95 475.71,331.59 477.23,331.48 478.76,331.43 480.28,330.68 481.8,331.18 483,330.22" fill="none" stroke="url(#gp)" stroke-width="3.0" stroke-linejoin="round" stroke-linecap="round"/>
<rect x="309.1" y="360" width="7.4" height="13.4" rx="2.5" fill="#000"/>
<rect x="315.1" y="341.6" width="1.9" height="54.6" fill="#000"/>
<path d="M316 342.07 L316.6 341.42 L317.2 341.68 L317.8 341.5 L318.4 342.22 L319 341.32 L319.6 341.06 L320.2 340.95 L320.8 340.71 L321.4 340.03 L322 340.17 L322.6 339.31 L323.2 339.86 L323.8 339.21 L324.4 337.5 L325 339.87 L325.6 339.06 L326.2 339.42 L326.8 340.02 L327.4 337.74 L328 339.69 L328.6 338.14 L329.2 340.15 L329.8 337.41 L330.4 340.3 L331 340.46 L331.6 340.74 L332.2 341.37 L332.8 340.66 L333.4 340.98 L334 341.22 L334.6 340.62 L335.2 341.37 L335.8 341.76 L336.4 342.67 L337 341.97 L337.6 342.13 L338.2 341.73 L338.8 341.94 L339.4 342.99 L340 342.56 L340.6 343.48 L341.2 342.88 L341.8 343.25 L342.4 344 L343 344.4 L343.6 344.42 L344.2 344.3 L344.8 344.12 L345.4 345.11 L346 345.47 L346.6 345.16 L347.2 346.63 L347.8 345.93 L348.4 345.42 L349 345.88 L349.6 346.15 L350.2 346.72 L350.8 346.24 L351.4 347.04 L352 347.38 L352.6 347.16 L353.2 347.34 L353.8 347.75 L354.4 347.29 L355 347.96 L355.6 348.33 L356.2 347.57 L356.8 348.39 L357.4 348.21 L358 348.82 L358.6 349.45 L359.2 349.43 L359.8 349.35 L360.4 350.13 L361 350.03 L361.6 350.09 L362.2 350.76 L362.8 349.99 L363.4 350.4 L364 349.79 L364.6 350.87 L365.2 350.24 L365.8 348.25 L366.4 350.31 L367 350.94 L367.6 351.01 L368.2 350.59 L368.8 349.5 L369.4 351.37 L370 350.57 L370.6 349.99 L371.2 351.43 L371.8 352.7 L372.4 350.84 L373 350.8 L373.6 351.23 L374.2 351.04 L374.8 351.26 L375.4 351.18 L376 351.46 L376.6 351.27 L377.2 352.35 L377.8 350.82 L378.4 348.19 L379 350.79 L379.6 349.97 L380.2 348.78 L380.8 350.09 L381 350.18 L381 353.29 L380.8 354.08 L380.2 354.34 L379.6 353.83 L379 354.27 L378.4 353.59 L377.8 354.86 L377.2 356.01 L376.6 355.47 L376 356.13 L375.4 356.24 L374.8 355.84 L374.2 356.54 L373.6 356.57 L373 357.09 L372.4 359.44 L371.8 357.22 L371.2 357.5 L370.6 357.03 L370 357.99 L369.4 358.16 L368.8 358.13 L368.2 357.93 L367.6 359.51 L367 358.39 L366.4 358.57 L365.8 358.6 L365.2 358.32 L364.6 358.39 L364 358.39 L363.4 358.69 L362.8 358.54 L362.2 357.99 L361.6 358.57 L361 357.32 L360.4 358.49 L359.8 358.24 L359.2 357.72 L358.6 360.37 L358 358.19 L357.4 358.32 L356.8 358.13 L356.2 358.2 L355.6 359.6 L355 357.71 L354.4 358.62 L353.8 357.51 L353.2 356.34 L352.6 356.83 L352 355.73 L351.4 355.91 L350.8 356.21 L350.2 356.18 L349.6 356.03 L349 355.77 L348.4 357.14 L347.8 355.92 L347.2 355.37 L346.6 355.52 L346 355.62 L345.4 355.37 L344.8 355.74 L344.2 356.66 L343.6 355.83 L343 355.09 L342.4 353.67 L341.8 355.14 L341.2 356.02 L340.6 354.71 L340 354.47 L339.4 354.51 L338.8 354.44 L338.2 354.84 L337.6 354.74 L337 353.85 L336.4 354.35 L335.8 354.12 L335.2 354.2 L334.6 353.39 L334 353.38 L333.4 354.11 L332.8 354.7 L332.2 353.08 L331.6 353.17 L331 352.81 L330.4 352.87 L329.8 352.58 L329.2 353.2 L328.6 352.4 L328 352.3 L327.4 353.13 L326.8 352.14 L326.2 352.47 L325.6 352.68 L325 352.43 L324.4 352.07 L323.8 351.96 L323.2 351.63 L322.6 351.49 L322 351.44 L321.4 351.66 L320.8 352.55 L320.2 351.21 L319.6 351.13 L319 351.91 L318.4 351.4 L317.8 350.93 L317.2 351.14 L316.6 350.85 L316 351.2Z" fill="#000"/>
<path d="M330.95 346.74 L331.28 358 L331.93 358 L332.25 346.74 Z" fill="#000"/>
<path d="M319.5 346.12 L319.75 354.5 L320.25 354.5 L320.5 346.12 Z" fill="#000"/>
<path d="M339.5 348.83 L339.75 357 L340.25 357 L340.5 348.83 Z" fill="#000"/>
<polyline points="379,352.87 380.5,351.88 382,350.84 383.5,349.87 384.9,347.71 386.3,345.79 387.7,343.22 388.96,341.36 390.22,339.53 391.48,337.23 392.74,335.26 394,332.67 395.28,330.76 396.56,328.51 397.84,326.57 399.12,324.46 400.4,322.01 401.66,320.43 402.92,318.77 404.18,317.45 405.44,315.66 406.7,313.6 407.93,311.88 409.17,309.38 410.4,307.57 411.63,305.18 412.87,303 414.1,301.42 415.43,299.7 416.75,298.38 418.07,297.51 419.4,296.12 420.61,295.02 421.83,294.66 423.04,293.65 424.26,292.98 425.47,291.94 426.69,291.62 427.9,290.71 429.1,290.51 430.3,290.09 431.5,289.36 432.7,289.03 433.9,288.54 435.1,288.16 436.3,287.74 437.51,287.88 438.73,288.06 439.94,287.7 441.16,288.11 442.37,287.9 443.59,287.89 444.8,288.19 446.12,288.18 447.45,288.26 448.77,288.55 450.1,288.87 451.43,288.67 452.75,289.41 454.07,289.03 455.4,289.65 456.72,289.89 458.05,289.59 459.38,290.24 460.7,290.17 462.02,290.48 463.35,290.33 464.68,290.54 466,290.81 467.4,291.62 468.8,291.52 470.2,292.2 471.6,292.66 473,293.02 474.4,293.01 476.5,294.91" fill="none" stroke="#000" stroke-width="3.0" stroke-linejoin="round" stroke-linecap="round"/>
<path d="M479.61 296.6 L479.56 297.18 L479.42 297.77 L479.07 298.27 L478.58 298.64 L477.96 298.67 L477.4 298.98 L476.84 298.7 L476.34 298.44 L475.96 298.04 L475.49 297.7 L475.41 297.13 L475.29 296.6 L475.23 296.02 L475.4 295.44 L475.77 294.97 L476.38 294.84 L476.88 294.64 L477.4 294.5 L477.97 294.45 L478.57 294.58 L479.04 294.96 L479.46 295.41 L479.56 296.02Z" fill="#000"/>
</svg>
</body></html>
